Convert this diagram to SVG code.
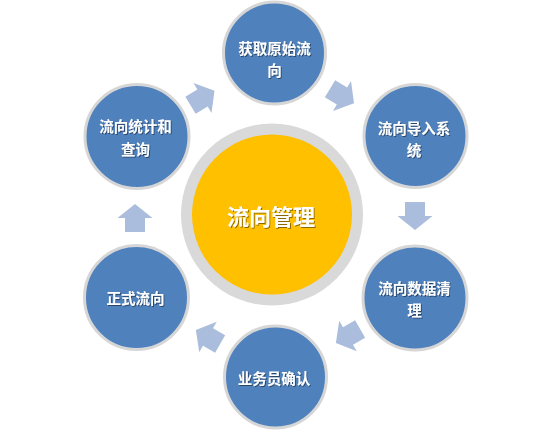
<svg xmlns="http://www.w3.org/2000/svg" width="550" height="435" viewBox="0 0 550 435">
  <defs>
    <filter id="ts" x="-20%" y="-20%" width="140%" height="140%">
      <feDropShadow dx="1" dy="1" stdDeviation="0.6" flood-color="#000" flood-opacity="0.45"/>
    </filter>
    <polygon id="arrow" points="-14,-10 0,-10 0,-17.5 14,0 0,17.5 0,10 -14,10"/>
  </defs>
  <style>
    .node circle { fill: #4F81BD; stroke: #D6D6D6; stroke-width: 3; }
    .node text { fill: #FFFFFF; font-family: "Noto Sans CJK SC", "Noto Sans", sans-serif; font-weight: bold; font-size: 14.5px; text-anchor: middle; dominant-baseline: central; filter: url(#ts); }
    .arr { fill: #AABDDC; }
    .hub-ring { fill: #D9D9D9; }
    .hub-core { fill: #FFC000; }
    .hub-text { fill: #FFFFFF; font-family: "Noto Sans CJK SC", "Noto Sans", sans-serif; font-weight: bold; font-size: 22px; text-anchor: middle; dominant-baseline: central; filter: url(#ts); }
  </style>
  <rect width="550" height="435" fill="#FFFFFF"/>

  <g id="connectors">
    <use href="#arrow" class="arr" transform="translate(202.5,98) rotate(-31)"/>
    <use href="#arrow" class="arr" transform="translate(342,96) rotate(31)"/>
    <use href="#arrow" class="arr" transform="translate(415,216) rotate(90)"/>
    <use href="#arrow" class="arr" transform="translate(348,336) rotate(150)"/>
    <use href="#arrow" class="arr" transform="translate(208,337) rotate(210)"/>
    <use href="#arrow" class="arr" transform="translate(135,218) rotate(-90)"/>
  </g>

  <g id="hub">
    <circle class="hub-ring" cx="272" cy="214.5" r="91"/>
    <circle class="hub-core" cx="272" cy="214.5" r="80"/>
    <text class="hub-text" x="271" y="215">流向管理</text>
  </g>

  <g id="node-top" class="node">
    <circle cx="274.5" cy="53" r="51"/>
    <text x="274.5" y="47">获取原始流</text>
    <text x="274.5" y="69.5">向</text>
  </g>

  <g id="node-right-top" class="node">
    <circle cx="415.5" cy="136" r="51.5"/>
    <text x="414" y="127">流向导入系</text>
    <text x="414" y="149">统</text>
  </g>

  <g id="node-right-bottom" class="node">
    <circle cx="415" cy="298" r="52"/>
    <text x="414.5" y="287">流向数据清</text>
    <text x="414.5" y="309">理</text>
  </g>

  <g id="node-bottom" class="node">
    <circle cx="275.5" cy="377" r="51"/>
    <text x="274" y="377">业务员确认</text>
  </g>

  <g id="node-left-bottom" class="node">
    <circle cx="136.5" cy="297.5" r="52"/>
    <text x="135.5" y="297">正式流向</text>
  </g>

  <g id="node-left-top" class="node">
    <circle cx="137" cy="136.5" r="52"/>
    <text x="135.5" y="125.5">流向统计和</text>
    <text x="135.5" y="148">查询</text>
  </g>
</svg>
